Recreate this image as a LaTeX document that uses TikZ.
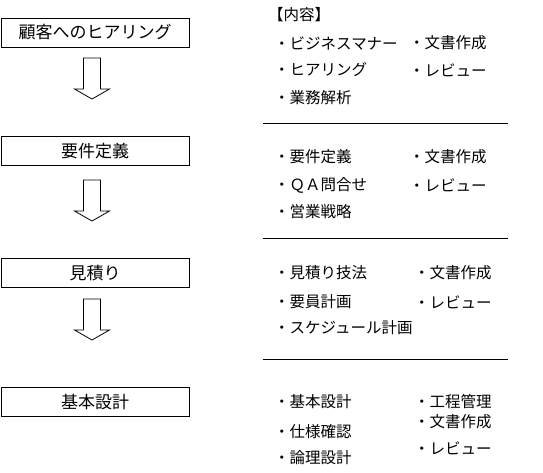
\documentclass[tikz,border=0pt]{standalone}
\usepackage{fontspec}
\newfontfamily\jp{Noto Sans CJK JP}
\begin{document}
\begin{tikzpicture}[x=1pt,y=-1pt,
  stepbox/.style={draw,line width=0.9pt,minimum width=188pt,minimum height=29pt,inner sep=0pt,font=\jp\fontsize{17}{17}\selectfont},
  item/.style={anchor=west,inner sep=0pt,font=\jp\fontsize{15.5}{15.5}\selectfont},
  sepline/.style={line width=0.9pt},
  downarrow/.pic={\draw[line width=0.8pt] (-8.5,0) -- (8.5,0) -- (8.5,31) -- (17.5,31) -- (0,41) -- (-17.5,31) -- (-8.5,31) -- cycle;}]
\useasboundingbox (0,0) rectangle (543,472);
% process boxes
\node[stepbox] (b1) at (95,32.5) {顧客へのヒアリング};
\node[stepbox] (b2) at (95,151) {要件定義};
\node[stepbox] (b3) at (95,273) {見積り};
\node[stepbox] (b4) at (95,402) {基本設計};
% block arrows
\pic at (92,58) {downarrow};
\pic at (92,180) {downarrow};
\pic at (92,299) {downarrow};
% separators
\draw[sepline] (263,123) -- (508,123);
\draw[sepline] (263,238) -- (508,238);
\draw[sepline] (263,359) -- (508,359);
% contents
\node[item] (h) at (268,15) {【内容】};
\node[item] (a1) at (274,43) {・ビジネスマナー};
\node[item] (a2) at (274,70) {・ヒアリング};
\node[item] (a3) at (274,98) {・業務解析};
\node[item] (a4) at (409,43) {・文書作成};
\node[item] (a5) at (409,70) {・レビュー};
\node[item] (c1) at (274,157) {・要件定義};
\node[item] (c2) at (274,185) {・ＱＡ問合せ};
\node[item] (c3) at (274,212) {・営業戦略};
\node[item] (c4) at (409,157) {・文書作成};
\node[item] (c5) at (409,185) {・レビュー};
\node[item] (d1) at (274,273) {・見積り技法};
\node[item] (d2) at (274,302) {・要員計画};
\node[item] (d3) at (274,328) {・スケジュール計画};
\node[item] (d4) at (414,273) {・文書作成};
\node[item] (d5) at (414,302) {・レビュー};
\node[item] (e1) at (274,402) {・基本設計};
\node[item] (e2) at (274,432) {・仕様確認};
\node[item] (e3) at (274,458) {・論理設計};
\node[item] (e4) at (414,402) {・工程管理};
\node[item] (e5) at (414,422) {・文書作成};
\node[item] (e6) at (414,448) {・レビュー};
\end{tikzpicture}
\end{document}
